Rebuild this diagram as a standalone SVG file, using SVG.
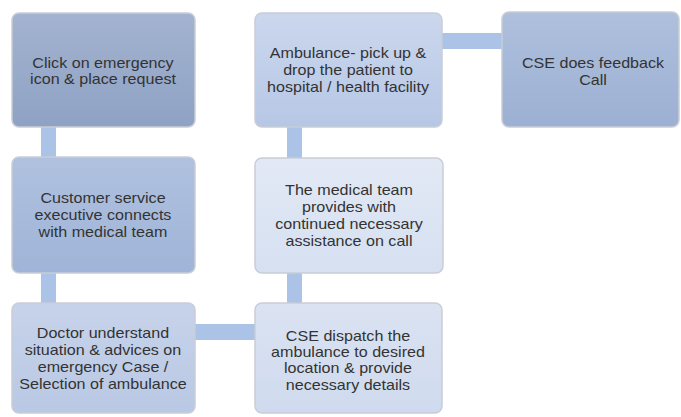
<svg xmlns="http://www.w3.org/2000/svg" width="681" height="417" viewBox="0 0 681 417">
<defs>
<linearGradient id="g1" x1="0" y1="0" x2="0" y2="1"><stop offset="0" stop-color="#a3b3d0"/><stop offset="1" stop-color="#8fa2c4"/></linearGradient>
<linearGradient id="g2" x1="0" y1="0" x2="0" y2="1"><stop offset="0" stop-color="#b0c1df"/><stop offset="1" stop-color="#9fb4d8"/></linearGradient>
<linearGradient id="g3" x1="0" y1="0" x2="0" y2="1"><stop offset="0" stop-color="#c7d3ea"/><stop offset="1" stop-color="#b9c8e4"/></linearGradient>
<linearGradient id="g4" x1="0" y1="0" x2="0" y2="1"><stop offset="0" stop-color="#cbd7ed"/><stop offset="1" stop-color="#b6c7e5"/></linearGradient>
<linearGradient id="g5" x1="0" y1="0" x2="0" y2="1"><stop offset="0" stop-color="#e2e9f5"/><stop offset="1" stop-color="#d6e0f1"/></linearGradient>
<linearGradient id="g6" x1="0" y1="0" x2="0" y2="1"><stop offset="0" stop-color="#dbe3f2"/><stop offset="1" stop-color="#cfdaee"/></linearGradient>
<linearGradient id="g7" x1="0" y1="0" x2="0" y2="1"><stop offset="0" stop-color="#afc0dd"/><stop offset="1" stop-color="#9cb0d3"/></linearGradient>
</defs>
<style>
.box{stroke:#c9cdd6;stroke-width:1.5}
.t{font-family:"Liberation Sans",Arial,sans-serif;font-size:14px;fill:#333333;text-anchor:middle}
.c{fill:#aac3e6}
</style>
<rect width="681" height="417" fill="#ffffff"/>
<g id="connectors">
<rect class="c" x="41" y="127" width="15" height="31"/>
<rect class="c" x="41" y="273" width="15" height="31"/>
<rect class="c" x="195" y="324" width="61" height="16"/>
<rect class="c" x="287" y="273" width="15" height="31"/>
<rect class="c" x="287" y="127" width="15" height="31"/>
<rect class="c" x="442" y="33" width="61" height="16"/>
</g>
<g id="n1"><rect class="box" x="12" y="13" width="183" height="114" rx="7" fill="url(#g1)"/>
<g transform="translate(103,0) scale(1.15,1)"><text class="t" x="0" y="68">Click on emergency</text><text class="t" x="0" y="84">icon &amp; place request</text></g></g>
<g id="n2"><rect class="box" x="12" y="157" width="183" height="116" rx="7" fill="url(#g2)"/>
<g transform="translate(103,0) scale(1.15,1)"><text class="t" x="0" y="203">Customer  service</text><text class="t" x="0" y="220">executive connects</text><text class="t" x="0" y="237">with medical team</text></g></g>
<g id="n3"><rect class="box" x="12" y="303" width="183" height="110" rx="7" fill="url(#g3)"/>
<g transform="translate(103,0) scale(1.15,1)"><text class="t" x="0" y="338">Doctor  understand</text><text class="t" x="0" y="355">situation &amp; advices on</text><text class="t" x="0" y="372">emergency Case /</text><text class="t" x="0" y="389">Selection of ambulance</text></g></g>
<g id="n4"><rect class="box" x="255" y="13" width="187" height="114" rx="7" fill="url(#g4)"/>
<g transform="translate(348,0) scale(1.15,1)"><text class="t" x="0" y="58">Ambulance-  pick  up &amp;</text><text class="t" x="0" y="75">drop the patient to</text><text class="t" x="0" y="92">hospital  / health facility</text></g></g>
<g id="n5"><rect class="box" x="255" y="158" width="188" height="115" rx="7" fill="url(#g5)"/>
<g transform="translate(349,0) scale(1.15,1)"><text class="t" x="0" y="195">The medical team</text><text class="t" x="0" y="212">provides  with</text><text class="t" x="0" y="229">continued necessary</text><text class="t" x="0" y="246">assistance  on call</text></g></g>
<g id="n6"><rect class="box" x="255" y="303" width="187" height="110" rx="7" fill="url(#g6)"/>
<g transform="translate(348,0) scale(1.15,1)"><text class="t" x="0" y="341">CSE  dispatch the</text><text class="t" x="0" y="357">ambulance to desired</text><text class="t" x="0" y="373">location &amp; provide</text><text class="t" x="0" y="390">necessary  details</text></g></g>
<g id="n7"><rect class="box" x="502" y="12" width="177" height="115" rx="7" fill="url(#g7)"/>
<g transform="translate(593,0) scale(1.15,1)"><text class="t" x="0" y="68">CSE does feedback</text><text class="t" x="0" y="85">Call</text></g></g>
</svg>
